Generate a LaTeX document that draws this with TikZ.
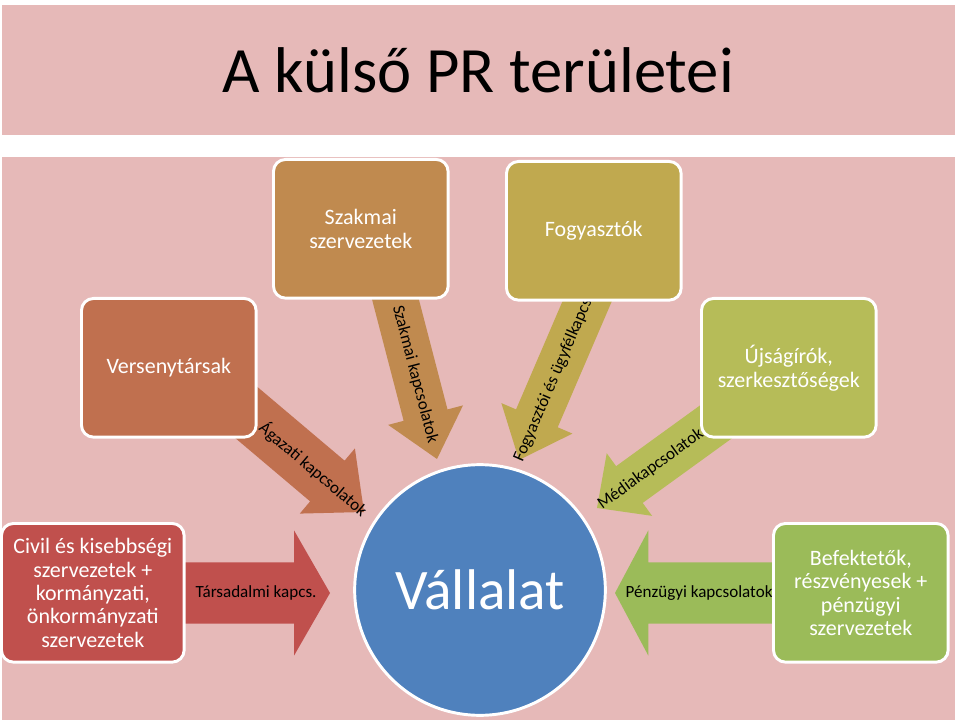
\documentclass[tikz,border=0pt]{standalone}
\usepackage{fontspec}
\setmainfont{Carlito}
\usetikzlibrary{calc}
\definecolor{bgpink}{HTML}{E6B9B8}
\definecolor{cSzak}{HTML}{C08A4F}
\definecolor{cFogy}{HTML}{C0A94F}
\definecolor{cVers}{HTML}{C0704F}
\definecolor{cUjs}{HTML}{B6BC58}
\definecolor{cCivil}{HTML}{C0504D}
\definecolor{cBef}{HTML}{9BBB59}
\definecolor{cVall}{HTML}{4F81BD}
\newcommand\farrow[7]{%
 \coordinate (#7) at ($(#2)!#5!(#1)$);
 \fill[#6] ($(#1)!#3!90:(#2)$) -- ($(#7)!#3!-90:(#1)$) -- ($(#7)!#4!-90:(#1)$) -- (#2) -- ($(#7)!#4!90:(#1)$) -- ($(#7)!#3!90:(#1)$) -- ($(#1)!#3!-90:(#2)$) -- cycle;}
\tikzset{
 box/.style={draw=white,line width=2.2pt,rounded corners=9pt,minimum width=131pt,minimum height=104pt,text=white,font=\fontsize{16.5}{18}\selectfont,align=center,anchor=north west,inner sep=3pt},
 alabel/.style={font=\fontsize{12.8}{14}\selectfont,text=black,inner sep=1pt}
}
\begin{document}
\begin{tikzpicture}[x=0.75pt,y=-0.75pt]
\useasboundingbox (0,0) rectangle (960,723);
\fill[white] (0,0) rectangle (960,723);
\fill[bgpink] (2,5) rectangle (955,135);
\fill[bgpink] (2,157) rectangle (955,720);
\node[font=\fontsize{48.5}{54}\selectfont] (title) at (478,70) {A külső PR területei};
% arrows
\coordinate (a1s) at (215,386); \coordinate (a1t) at (364,512);
\farrow{a1s}{a1t}{20pt}{32pt}{36pt}{cVers}{a1h}
\coordinate (a2s) at (393,290); \coordinate (a2t) at (437,459);
\farrow{a2s}{a2t}{17pt}{29pt}{34pt}{cSzak}{a2h}
\coordinate (a3s) at (592,290); \coordinate (a3t) at (519,460);
\farrow{a3s}{a3t}{17pt}{29pt}{34pt}{cFogy}{a3h}
\coordinate (a4s) at (742,403); \coordinate (a4t) at (597,508);
\farrow{a4s}{a4t}{17pt}{29pt}{30pt}{cUjs}{a4h}
\coordinate (a5s) at (180,593); \coordinate (a5t) at (330,593);
\farrow{a5s}{a5t}{23pt}{47pt}{27pt}{cCivil}{a5h}
\coordinate (a6s) at (775,593); \coordinate (a6t) at (615,593);
\farrow{a6s}{a6t}{23pt}{47pt}{25pt}{cBef}{a6h}
\path (a1s) -- (a1t) node[alabel,sloped,pos=0.66] {Ágazati kapcsolatok};
\path (a2s) -- (a2t) node[alabel,sloped,pos=0.5] {Szakmai kapcsolatok};
\path (a3s) -- (a3t) node[alabel,sloped,pos=0.52] {Fogyasztói és ügyfélkapcs.};
\path (a4s) -- (a4t) node[alabel,sloped,pos=0.63] {Médiakapcsolatok};
\node[alabel,anchor=west] (l5) at (194,593) {Társadalmi kapcs.};
\node[alabel,anchor=west] (l6) at (624,593) {Pénzügyi kapcsolatok};
% boxes
\node[box,fill=cSzak] (szak) at (272,158) {Szakmai\\szervezetek};
\node[box,fill=cFogy] (fogy) at (505,160) {Fogyasztók};
\node[box,fill=cVers] (vers) at (80,297) {Versenytársak};
\node[box,fill=cUjs] (ujs) at (700,297) {Újságírók,\\szerkesztőségek};
\node[box,fill=cCivil,minimum width=137pt,font=\fontsize{16.5}{17.5}\selectfont] (civil) at (0,522) {Civil és kisebbségi\\szervezetek +\\kormányzati,\\önkormányzati\\szervezetek};
\node[box,fill=cBef,font=\fontsize{16.5}{17.5}\selectfont] (bef) at (772,522) {Befektetők,\\részvényesek +\\pénzügyi\\szervezetek};
\node[circle,draw=white,line width=2.2pt,fill=cVall,minimum size=188pt,text=white,font=\fontsize{43}{47}\selectfont] (vall) at (480,590) {Vállalat};
\end{tikzpicture}
\end{document}
